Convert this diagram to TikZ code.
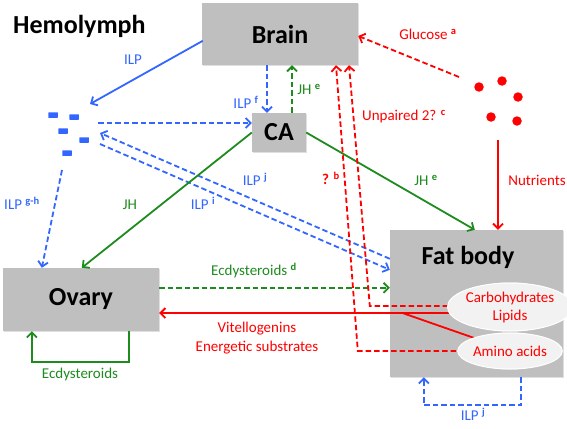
\documentclass[tikz,border=0pt]{standalone}
\usepackage{fontspec}
\setmainfont{Carlito}
\usetikzlibrary{arrows.meta,calc,shadows,shapes.geometric}
\definecolor{ilpblue}{HTML}{3366FF}
\definecolor{jhgreen}{HTML}{1E8B1E}
\definecolor{nred}{HTML}{FF0000}
\definecolor{boxgray}{HTML}{BFBFBF}
\definecolor{ellfill}{HTML}{F2F2F2}
\begin{document}
\begin{tikzpicture}[x=1pt,y=-1pt,
  organ/.style={draw=none, fill=boxgray, inner sep=0pt,
    font=\bfseries\fontsize{26}{28}\selectfont,
    drop shadow={opacity=0.25,shadow xshift=1pt,shadow yshift=-1pt}},
  bigtxt/.style={inner sep=0pt, font=\bfseries\fontsize{26}{28}\selectfont},
  lbl/.style={inner sep=0pt, anchor=mid, font=\fontsize{15}{17}\selectfont},
  arr/.style={line width=1.8pt, -{Straight Barb[length=5pt,width=10pt]}},
  plain/.style={line width=1.8pt},
  dsh/.style={dash pattern=on 5.5pt off 3pt},
  ilpmol/.style={rectangle, fill=ilpblue, minimum width=9.5pt, minimum height=5.5pt, inner sep=0pt, rounded corners=0.5pt},
  nutdot/.style={circle, fill=nred, minimum size=9.5pt, inner sep=0pt},
  ell/.style={ellipse, fill=ellfill, draw=white, line width=1pt, text=nred, inner sep=0pt, align=center, font=\fontsize{15}{18}\selectfont}
]
\useasboundingbox (0,0) rectangle (567,428);

% organs
\node[organ, minimum width=156pt, minimum height=62pt] (brain) at (280,34) {Brain};
\node[organ, minimum width=54pt, minimum height=39pt] (ca) at (279,132.5) {CA};
\node[organ, minimum width=156pt, minimum height=63pt] (ovary) at (81,299.5) {Ovary};
\node[organ, minimum width=173pt, minimum height=147pt] (fat) at (476.5,303.5) {};
\node[bigtxt, anchor=mid] (fattitle) at (468,262) {Fat body};
\node[bigtxt, anchor=base west] (hemo) at (13,34) {Hemolymph};

% ILP molecules
\node[ilpmol] (m1) at (53,115) {};
\node[ilpmol] (m2) at (74,117) {};
\node[ilpmol] (m3) at (63,131) {};
\node[ilpmol] (m4) at (84,140) {};
\node[ilpmol] (m5) at (67,153) {};

% nutrient dots
\node[nutdot] (n1) at (479,87) {};
\node[nutdot] (n2) at (502,81) {};
\node[nutdot] (n3) at (518,97) {};
\node[nutdot] (n4) at (491,117) {};
\node[nutdot] (n5) at (517,121) {};

% free ends near the groups
\coordinate (ilpin) at (90,104);
\coordinate (ilpout) at (98,123);
\coordinate (ilpret) at (100,133);
\coordinate (ilpfb) at (100,144);
\coordinate (ilpov) at (62,170);
\coordinate (glc) at (459,77);
\coordinate (nut) at (498,140);

% ellipses inside fat body (anchors; redrawn on top later)
\path (510,307) node[ell, minimum width=106pt, minimum height=48pt] (carb) {};
\path (510,351) node[ell, minimum width=90pt, minimum height=36pt] (amino) {};

% blue ILP connectors
\draw[arr, ilpblue] ($(brain.north west)+(1,38)$) -- (ilpin);
\draw[arr, dsh, ilpblue] ($(brain.south)+(-13,0)$) -- ($(ca.north)+(-12,0)$);
\draw[arr, dsh, ilpblue] (ilpout) -- (ilpout -| ca.west);
\draw[arr, dsh, ilpblue] ($(fat.north west)+(0,29)$) -- (ilpret);
\draw[arr, dsh, ilpblue] (ilpfb) -- ($(fat.north west)+(0,40)$);
\draw[arr, dsh, ilpblue] (ilpov) -- ($(ovary.north west)+(39,0)$);
\draw[arr, dsh, ilpblue] ($(fat.south west)+(131,0)$) -- ++(0,28) -| ($(fat.south west)+(34,0)$);

% green JH / ecdysteroid connectors
\draw[arr, dsh, jhgreen] ($(ca.north)+(13,0)$) -- ($(brain.south)+(12,0)$);
\draw[arr, jhgreen] (ca.west) -- ($(ovary.north west)+(79,0)$);
\draw[arr, jhgreen] (ca.east) -- ($(fat.north west)+(85,0)$);
\draw[arr, dsh, jhgreen] ($(ovary.north east)+(0,20)$) -- ($(fat.north west)+(0,58)$);
\draw[arr, jhgreen] ($(ovary.south west)+(126,0)$) -- ++(0,31) -| ($(ovary.south west)+(29,0)$);

% red connectors
\draw[arr, dsh, nred] (glc) -- ($(brain.east)+(0,2)$);
\draw[arr, nred] (nut) -- (nut |- fat.north);
\draw[arr, dsh, nred] (amino.west) -- ($(fat.west |- amino.west)+(-32,0)$) -- ($(brain.south)+(56,0)$);
\draw[arr, dsh, nred] ($(carb.west)+(0,-1)$) -- ($(fat.west |- carb.west)+(-20,-1)$) -- ($(brain.south)+(69,0)$);
\draw[arr, nred] ($(carb.west)+(1,6)$) coordinate (vs) -- (vs -| ovary.east);
\draw[plain, nred] ($(vs)+(-55,0)$) -- (amino.160);

% ellipses on top
\node[ell, minimum width=106pt, minimum height=48pt] at (carb.center) {Carbohydrates\\Lipids};
\node[ell, minimum width=90pt, minimum height=36pt] at (amino.center) {Amino acids};

% labels
\node[lbl, text=ilpblue] (l1) at (133,62) {ILP};
\node[lbl, text=ilpblue] (l2) at (246,106) {ILP \textsuperscript{\bfseries f}};
\node[lbl, text=jhgreen] (l3) at (309,92) {JH \textsuperscript{\bfseries e}};
\node[lbl, text=ilpblue] (l4) at (255,183) {ILP \textsuperscript{\bfseries j}};
\node[lbl, text=ilpblue] (l5) at (203,207) {ILP \textsuperscript{\bfseries i}};
\node[lbl, text=ilpblue] (l6) at (22,207) {ILP \textsuperscript{\bfseries g-h}};
\node[lbl, text=jhgreen] (l7) at (130,207) {JH};
\node[lbl, text=jhgreen] (l8) at (426,183) {JH \textsuperscript{\bfseries e}};
\node[lbl, text=nred] (l9) at (428,37) {Glucose \textsuperscript{\bfseries a}};
\node[lbl, text=nred] (l10) at (404,118) {Unpaired 2? \textsuperscript{\bfseries c}};
\node[lbl, text=nred, font=\bfseries\fontsize{15}{17}\selectfont] (l11) at (331,182) {? \textsuperscript{b}};
\node[lbl, text=nred] (l12) at (537,183) {Nutrients};
\node[lbl, text=jhgreen] (l13) at (254,273) {Ecdysteroids \textsuperscript{\bfseries d}};
\node[lbl, text=nred] (l14) at (257,330) {Vitellogenins};
\node[lbl, text=nred] (l15) at (257,349) {Energetic substrates};
\node[lbl, text=jhgreen] (l16) at (80,376) {Ecdysteroids};
\node[lbl, text=ilpblue] (l17) at (473,418) {ILP \textsuperscript{\bfseries j}};
\end{tikzpicture}
\end{document}
